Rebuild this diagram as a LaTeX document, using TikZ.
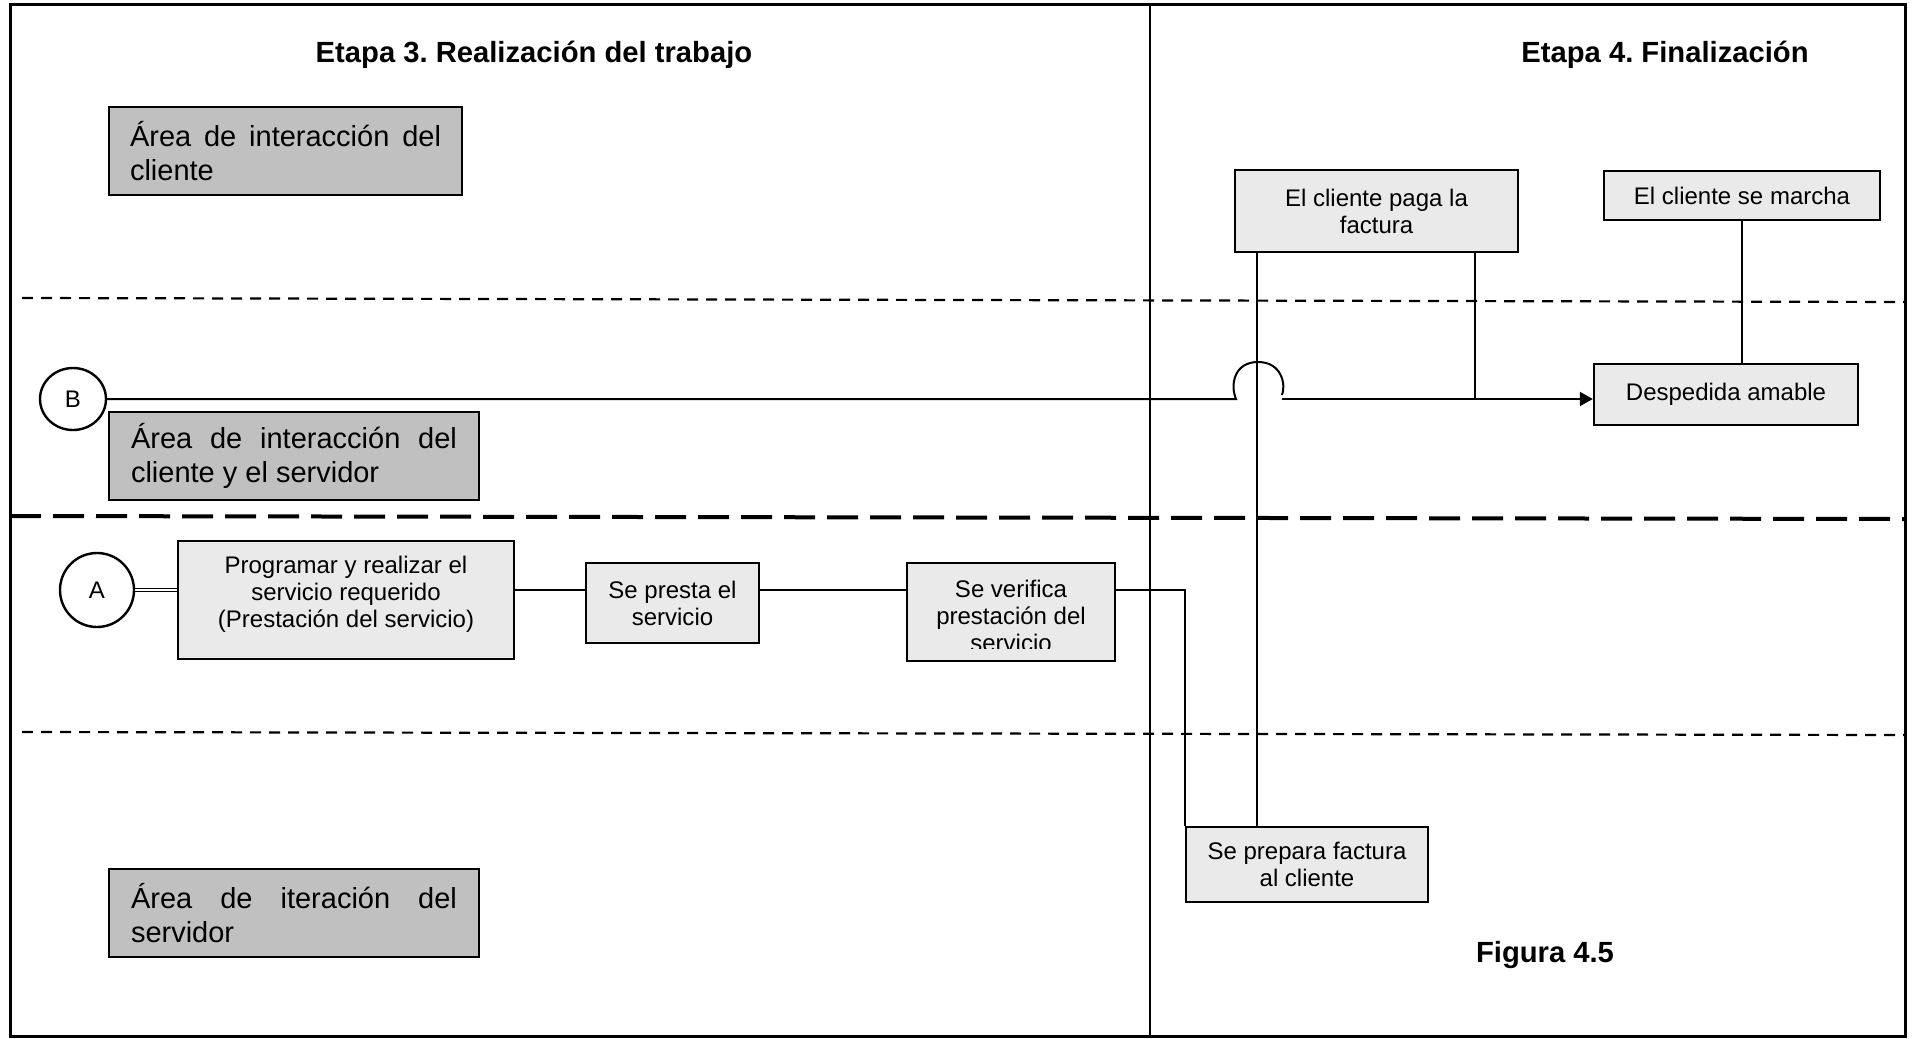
\documentclass[tikz,border=0pt]{standalone}
\usepackage{fontspec}
\setmainfont{Liberation Sans}
\usetikzlibrary{arrows.meta,shapes.geometric}
\definecolor{areagray}{HTML}{C0C0C0}
\definecolor{boxgray}{HTML}{EAEAEA}
\frenchspacing
\tikzset{
  areabox/.style={draw, line width=1.3pt, fill=areagray, rectangle, align=justify,
    font=\fontsize{14.5}{17}\selectfont, inner ysep=0pt, minimum height=44pt},
  stepbox/.style={draw, line width=1.2pt, fill=boxgray, rectangle, inner sep=0pt},
  steptext/.style={align=center, font=\fontsize{12}{13.5}\selectfont, inner sep=0pt},
  conn/.style={line width=1pt},
  fineline/.style={line width=1.1pt, dash pattern=on 5.5pt off 4pt},
  coarseline/.style={line width=2pt, dash pattern=on 15.5pt off 6pt},
  titletext/.style={font=\fontsize{14.6}{17}\selectfont\bfseries, inner sep=0pt},
  mark circle/.style={draw, line width=1.2pt, fill=white, inner sep=0pt,
    font=\fontsize{12}{14}\selectfont}
}
\begin{document}
\begin{tikzpicture}[x=0.5pt,y=-0.5pt]
\useasboundingbox (0,0) rectangle (1914,1038);
% frame and lanes
\draw[line width=1.5pt] (10,5) rectangle (1905,1036);
\draw[line width=1pt] (1150,5) -- (1150,1036);
\draw[fineline] (22,298) -- (1905,302);
\draw[coarseline] (10,516) -- (1905,519);
\draw[fineline] (22,732) -- (1905,735);
% titles
\node[titletext] (t3) at (534,55) {Etapa 3. Realización del trabajo};
\node[titletext] (t4) at (1665,55) {Etapa 4. Finalización};
\node[titletext] (fig) at (1545,955) {Figura 4.5};
% area labels
\node[areabox, text width=155.5pt, inner xsep=10.5pt] (g1) at (285.5,151)
  {Área de interacción del\linebreak cliente};
\node[areabox, text width=163pt, inner xsep=11pt] (g2) at (294,456)
  {Área de interacción del\linebreak cliente y el servidor};
\node[areabox, text width=163pt, inner xsep=11pt] (g3) at (294,913)
  {Área de iteración del\linebreak servidor};
% connectors circles
\node[mark circle, ellipse, minimum width=33pt, minimum height=31pt] (B) at (73,399) {B};
\node[mark circle, circle, minimum size=37pt] (A) at (97,590) {A};
% step boxes
\node[stepbox, minimum width=168pt, minimum height=59pt] (prog) at (346,600) {};
\node[steptext] (progt) at (346,594) {Programar y realizar el\\servicio requerido\\(Prestación del servicio)};
\node[stepbox, steptext, draw, line width=1.2pt, fill=boxgray, minimum width=86.5pt, minimum height=40pt] (presta) at (672.5,603) {Se presta el\\servicio};
\node[stepbox, minimum width=104pt, minimum height=49pt] (verif) at (1011,612) {};
\begin{scope}
  \clip (verif.north west) rectangle ([yshift=7pt]verif.south east);
  \node[steptext] (verift) at (1011,615.5) {Se verifica\\prestación del\\servicio};
\end{scope}
\node[stepbox, steptext, draw, line width=1.2pt, fill=boxgray, minimum width=141.5pt, minimum height=41pt] (paga) at (1376.5,211) {El cliente paga la\\factura};
\node[stepbox, steptext, draw, line width=1.2pt, fill=boxgray, minimum width=138pt, minimum height=24.5pt] (marcha) at (1742,195.5) {El cliente se marcha};
\node[stepbox, steptext, draw, line width=1.2pt, fill=boxgray, minimum width=132pt, minimum height=30.5pt] (desp) at (1726,394.5) {Despedida amable};
\node[stepbox, steptext, draw, line width=1.2pt, fill=boxgray, minimum width=121pt, minimum height=37.5pt] (prep) at (1307,864.5) {Se prepara factura\\al cliente};
% connectors
\draw[line width=0.6pt, double distance=0.7pt] (A.east) -- (A.east -| prog.west);
\draw[conn] (prog.east |- A.east) -- (presta.west |- A.east);
\draw[conn] (presta.east |- A.east) -- (verif.west |- A.east);
\draw[conn] (verif.east |- A.east) -| (prep.north west);
\coordinate (pl) at ([xshift=11.5pt]paga.south west);
\coordinate (pr) at ([xshift=120.5pt]paga.south west);
\draw[conn] (pl) -- (pl |- prep.north);
\draw[conn] (pr) -- (pr |- B.east);
\coordinate (hl) at (1236,399);
\coordinate (hr) at (1282,399);
\draw[conn] (B.east) -- (hl) .. controls (1230,385) and (1234,362) .. (1258,362)
  .. controls (1282,362) and (1286,385) .. (1282,395);
\draw[conn, -{Triangle[length=6.5pt,width=7pt]}] (hr) -- (hr -| desp.west);
\draw[conn] (marcha.south) -- (marcha.south |- desp.north);
\end{tikzpicture}
\end{document}
